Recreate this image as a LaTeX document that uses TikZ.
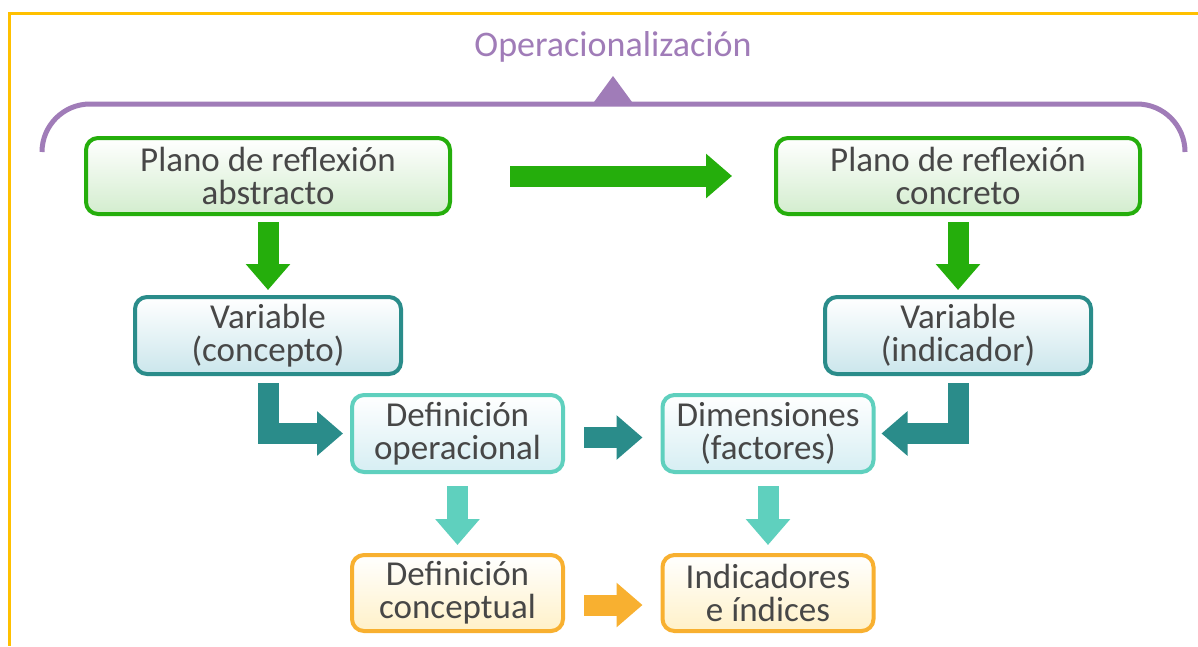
\documentclass[tikz,border=0pt]{standalone}
\usepackage{fontspec}
\setmainfont{Carlito}
\usepackage{xcolor}
\definecolor{frameOrange}{HTML}{FFC000}
\definecolor{opPurple}{HTML}{A07CB8}
\definecolor{planGreen}{HTML}{25AE0C}
\definecolor{planFill}{HTML}{D3EDCE}
\definecolor{varTeal}{HTML}{2A8C8A}
\definecolor{varFill}{HTML}{CBE6EC}
\definecolor{defTeal}{HTML}{5FD0BE}
\definecolor{defFill}{HTML}{D6EEF3}
\definecolor{indOrange}{HTML}{F8B030}
\definecolor{indFill}{HTML}{FFF1C8}
\definecolor{textGray}{HTML}{474747}
\usetikzlibrary{arrows.meta}

\tikzset{
  box/.style={rectangle, rounded corners=12pt, line width=4pt, align=center,
    text=textGray, font=\fontsize{35}{33}\selectfont, top color=white},
  planbox/.style={box, draw=planGreen, bottom color=planFill, minimum width=364pt, minimum height=76pt},
  varbox/.style={box, draw=varTeal, bottom color=varFill, minimum width=266pt, minimum height=77pt},
  defbox/.style={box, draw=defTeal, bottom color=defFill, minimum width=211pt, minimum height=77pt},
  indbox/.style={box, draw=indOrange, bottom color=indFill, minimum width=211pt, minimum height=76pt},
  blockarrow/.style={line width=21pt, line join=miter, -{Triangle[width=43pt,length=26pt]}},
}

\begin{document}
\begin{tikzpicture}[x=1pt,y=-1pt]
  \fill[white] (0,0) rectangle (1198,646);
  \useasboundingbox (0,0) rectangle (1198,646);
  % frame
  \draw[frameOrange, line width=3pt] (1198,13) -- (9,13) -- (9,646);

  % title and bracket
  \node[text=opPurple, font=\fontsize{36}{40}\selectfont] (title) at (613,47) {Operacionalización};
  \draw[opPurple, line width=5pt, rounded corners=48pt] (42,152) |- (1185,104) -- (1185,152);
  \fill[opPurple] (594,102) -- (613,76) -- (632,102) -- cycle;

  % boxes
  \node[planbox] (planA) at (268,176) {Plano de reflexión\\abstracto};
  \node[planbox] (planB) at (958,176) {Plano de reflexión\\concreto};
  \node[varbox] (varA) at (268,335.5) {Variable\\(concepto)};
  \node[varbox] (varB) at (958,335.5) {Variable\\(indicador)};
  \node[defbox] (defop) at (457.5,433.5) {Definición\\operacional};
  \node[defbox] (dims) at (768,433.5) {Dimensiones\\(factores)};
  \node[indbox] (defcon) at (457.5,593) {Definición\\conceptual};
  \node[indbox] (indic) at (768,593) {Indicadores\\e índices};

  % arrows
  \draw[blockarrow, planGreen, shorten <=58pt, shorten >=42pt] (planA.east) -- (planB.west);
  \draw[blockarrow, planGreen, shorten <=6pt, shorten >=5pt] (planA.south) -- (varA.north);
  \draw[blockarrow, planGreen, shorten <=6pt, shorten >=5pt] (planB.south) -- (varB.north);
  \draw[blockarrow, varTeal, shorten <=7pt, shorten >=7pt] (varA.south) |- (defop.west);
  \draw[blockarrow, varTeal, shorten <=7pt, shorten >=6pt] (varB.south) |- (dims.east);
  \draw[blockarrow, varTeal, shorten <=19pt, shorten >=18pt] ([yshift=-4pt]defop.east) -- ([yshift=-4pt]dims.west);
  \draw[blockarrow, defTeal, shorten <=12pt, shorten >=8pt] (defop.south) -- (defcon.north);
  \draw[blockarrow, defTeal, shorten <=12pt, shorten >=8pt] (dims.south) -- (indic.north);
  \draw[blockarrow, indOrange, shorten <=19pt, shorten >=18pt] ([yshift=-12pt]defcon.east) -- ([yshift=-12pt]indic.west);
\end{tikzpicture}
\end{document}
